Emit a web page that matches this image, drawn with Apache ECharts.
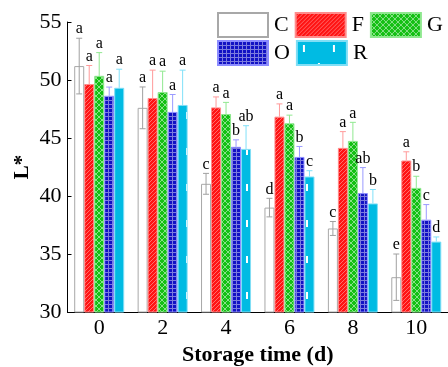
<!DOCTYPE html>
<html><head><meta charset="utf-8">
<script src="https://cdn.jsdelivr.net/npm/echarts@6/dist/echarts.min.js"></script>
<style>html,body{margin:0;padding:0;background:#fff}#c{width:448px;height:367px}</style>
</head><body><div id="c"></div>
<script>
var categories = ['0','2','4','6','8','10'];
var seriesNames = ['C','F','G','O','R'];
var valC = [51.2, 47.6, 41.05, 39.0, 37.2, 33.0];
var valF = [49.65, 48.45, 47.64, 46.84, 44.15, 43.06];
var valG = [50.36, 48.96, 47.07, 46.27, 44.75, 40.7];
var valO = [48.64, 47.25, 44.24, 43.37, 40.25, 37.96];
var valR = [49.33, 47.85, 44.06, 41.68, 39.36, 36.07];
var errC = [2.4, 1.8, 0.9, 0.8, 0.6, 2.0];
var errF = [1.6, 2.4, 0.9, 1.1, 1.4, 0.75];
var errG = [2.0, 1.8, 1.0, 0.7, 1.6, 1.0];
var errO = [0.75, 1.5, 0.6, 0.9, 2.2, 1.3];
var errR = [1.6, 3.0, 2.0, 0.5, 1.2, 0.4];
var letC = ['a','a','c','d','c','e'];
var letF = ['a','a','a','a','a','a'];
var letG = ['a','a','a','a','a','b'];
var letO = ['a','a','b','b','ab','c'];
var letR = ['a','a','ab','c','b','d'];
var yTicks = [30, 35, 40, 45, 50, 55];

var vals = [valC, valF, valG, valO, valR];
var errs = [errC, errF, errG, errO, errR];
var lets = [letC, letF, letG, letO, letR];

var FONT = "'Liberation Serif','Times New Roman',serif";
var BAR_W = 10;

function pattern(w, h, bg, draw) {
  var c = document.createElement('canvas'); c.width = w; c.height = h;
  var ctx = c.getContext('2d'); ctx.fillStyle = bg; ctx.fillRect(0, 0, w, h);
  draw(ctx); return { image: c, repeat: 'repeat' };
}
var patF = pattern(4, 4, '#ff1414', function (ctx) {
  ctx.fillStyle = 'rgba(255,255,255,0.38)';
  for (var i = 0; i < 4; i++) ctx.fillRect(i, 3 - i, 1, 1);
});
var patG = pattern(6, 6, '#14c014', function (ctx) {
  ctx.fillStyle = 'rgba(255,255,255,0.5)';
  for (var i = 0; i < 6; i++) { ctx.fillRect(i, i, 1, 1); ctx.fillRect(i, 5 - i, 1, 1); }
});
var patO = pattern(4, 4, '#1212c4', function (ctx) {
  ctx.fillStyle = 'rgba(255,255,255,0.45)';
  ctx.fillRect(0, 0, 4, 1); ctx.fillRect(0, 1, 1, 3);
});
var patR = pattern(30, 36, '#00bbe3', function (ctx) {
  ctx.fillStyle = '#ffffff';
  ctx.fillRect(6, 4, 2, 7); ctx.fillRect(21, 22, 2, 7);
});
var fills = ['#ffffff', patF, patG, patO, patR];
var borders = ['#a8a8a8', '#ff8c8c', '#8ee88e', '#8c8cff', '#80def5'];
var errColors = ['#a0a0a0', '#ff9a9a', '#90e890', '#9a9aff', '#80e0f8'];

var series = seriesNames.map(function (n, si) {
  return {
    name: n, type: 'bar', data: vals[si], barWidth: BAR_W, barGap: '0%',
    itemStyle: { color: fills[si], borderColor: borders[si], borderWidth: 1 },
    z: 2, silent: true
  };
});
var errData = [];
for (var si = 0; si < 5; si++) for (var ci = 0; ci < categories.length; ci++)
  errData.push([ci, si, vals[si][ci], errs[si][ci]]);

series.push({
  name: 'err', type: 'custom', z: 5, silent: true, data: errData,
  encode: { x: 0, y: 2 },
  renderItem: function (params, api) {
    var ci = api.value(0), si = api.value(1), v = api.value(2), e = api.value(3);
    var mid = api.coord([ci, v]);
    var top = api.coord([ci, v + e]);
    var bot = api.coord([ci, v - e]);
    var x = mid[0] + (si - 2) * BAR_W;
    var col = errColors[si];
    var half = 3;
    var st = { stroke: col, lineWidth: 1 };
    var ch = [];
    var y0 = si === 0 ? bot[1] : mid[1];
    ch.push({ type: 'line', shape: { x1: x, y1: y0, x2: x, y2: top[1] }, style: st });
    ch.push({ type: 'line', shape: { x1: x - half, y1: top[1], x2: x + half, y2: top[1] }, style: st });
    if (si === 0) ch.push({ type: 'line', shape: { x1: x - half, y1: bot[1], x2: x + half, y2: bot[1] }, style: st });
    ch.push({ type: 'text', style: { text: lets[si][ci], x: x, y: top[1] - 1, align: 'center', verticalAlign: 'bottom', font: '16px ' + FONT, fill: '#000' } });
    return { type: 'group', children: ch };
  }
});

var chart = echarts.init(document.getElementById('c'), null, { renderer: 'canvas' });
var legendCommon = {
  left: 217, padding: 0, itemWidth: 50, itemHeight: 24, itemGap: 6, orient: 'horizontal',
  textStyle: { fontFamily: FONT, fontSize: 22, color: '#000', padding: [0, 0, 0, 1] },
  selectedMode: false, icon: 'rect'
};
chart.setOption({
  animation: false,
  backgroundColor: '#fff',
  legend: [
    Object.assign({}, legendCommon, { top: 12, data: ['C', 'F', 'G'] }),
    Object.assign({}, legendCommon, { top: 40, data: ['O', 'R'] })
  ],
  grid: { left: 67.5, right: 0, top: 22, bottom: 55, containLabel: false, outerBoundsMode: 'none' },
  xAxis: {
    type: 'category', data: categories,
    axisLine: { lineStyle: { color: '#000', width: 1 } },
    axisTick: { inside: true, length: 4, lineStyle: { color: '#000' } },
    axisLabel: { fontFamily: FONT, fontSize: 22, color: '#000', margin: 5 },
    name: 'Storage time (d)', nameLocation: 'middle', nameGap: 32, nameMoveOverlap: false,
    nameTextStyle: { fontFamily: FONT, fontSize: 22, fontWeight: 'bold', color: '#000' }
  },
  yAxis: {
    type: 'value', min: yTicks[0], max: yTicks[yTicks.length - 1], interval: 5,
    axisLine: { show: true, lineStyle: { color: '#000', width: 1 } },
    axisTick: { show: true, inside: true, length: 4, lineStyle: { color: '#000' } },
    splitLine: { show: false },
    axisLabel: { fontFamily: FONT, fontSize: 22, color: '#000', margin: 6 },
    name: 'L*', nameLocation: 'middle', nameGap: 34, nameMoveOverlap: false,
    nameTextStyle: { fontFamily: FONT, fontSize: 21, fontWeight: 'bold', color: '#000' }
  },
  series: series
});
</script></body></html>
